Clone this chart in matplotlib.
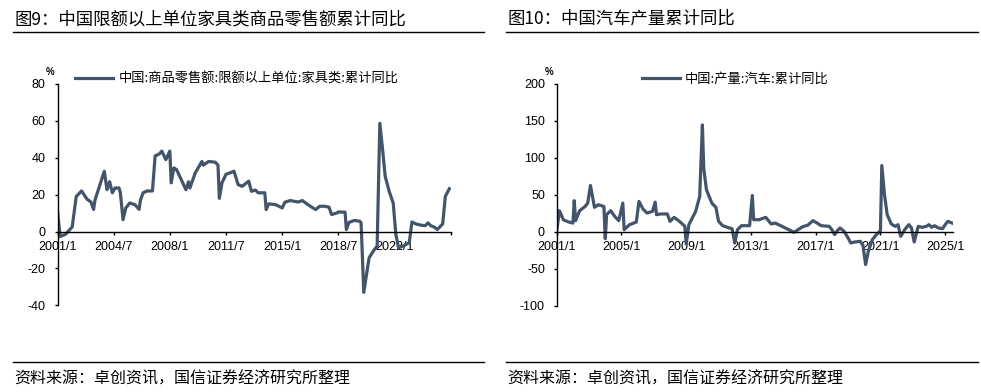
import matplotlib
matplotlib.use('Agg')
import matplotlib.pyplot as plt
import matplotlib.lines as mlines

plt.rcParams['font.family'] = ['Noto Sans CJK SC', 'DejaVu Sans']
plt.rcParams['axes.unicode_minus'] = False

W, H = 981, 392
LINE_COLOR = '#44546A'

# 图9: furniture retail sales, cumulative YoY (%)
furniture_dates = [
    "2001-01", "2001-03", "2001-07", "2001-12", "2002-03", "2002-07", "2002-11", "2003-02",
    "2003-04", "2003-05", "2003-12", "2004-02", "2004-04", "2004-06", "2004-08", "2004-11",
    "2004-12", "2005-02", "2005-04", "2005-07", "2005-11", "2006-02", "2006-03", "2006-05",
    "2006-08", "2006-12", "2007-02", "2007-05", "2007-07", "2007-10", "2008-01", "2008-02",
    "2008-04", "2008-06", "2008-09", "2009-01", "2009-03", "2009-04", "2009-08", "2010-01",
    "2010-02", "2010-06", "2010-11", "2011-01", "2011-02", "2011-04", "2011-07", "2012-01",
    "2012-04", "2012-07", "2012-12", "2013-02", "2013-05", "2013-07", "2013-12", "2014-01",
    "2014-03", "2014-08", "2015-01", "2015-03", "2015-07", "2016-01", "2016-04", "2016-09",
    "2017-02", "2017-05", "2017-09", "2017-12", "2018-02", "2018-06", "2018-07", "2018-12",
    "2019-01", "2019-03", "2019-07", "2019-11", "2019-12", "2020-02", "2020-06", "2020-10",
    "2020-12", "2021-02", "2021-04", "2021-06", "2021-09", "2021-12", "2022-02", "2022-04",
    "2022-07", "2022-12", "2023-02", "2023-05", "2023-09", "2023-12", "2024-02", "2024-04",
    "2024-07", "2024-09", "2025-01", "2025-03", "2025-06",
]
furniture_values = [
    11, -2.7, -1.5, 2.5, 19, 22, 17.6, 16,
    12, 17, 32.7, 22.7, 27, 21, 23.6, 23.6,
    21, 6.4, 12.7, 15.5, 14.5, 12, 17, 21,
    22, 22, 41, 42, 43.6, 39, 43.6, 26.4,
    34.5, 33.6, 29, 22.7, 27, 23.6, 31.8, 38,
    36, 38, 37.6, 36, 18, 26.4, 31, 32.7,
    25.5, 24.5, 27.3, 21.8, 22.5, 21, 21, 11.9,
    15, 14.6, 12.8, 15.9, 16.8, 16, 16.8, 14.2,
    11.9, 13.7, 13.7, 13.2, 9.2, 10.1, 10.6, 10.5,
    1.1, 5, 6, 5.6, 4.7, -33, -14.2, -9.7,
    -8, 58.7, 45, 30, 21.8, 15.5, -1.6, -8.8,
    -8, -6.1, 5.2, 4.1, 3.4, 3.2, 4.7, 3.2,
    2.3, 1.1, 4.1, 19.1, 23.2,
]

# 图10: auto production, cumulative YoY (%)
auto_dates = [
    "2001-01", "2001-03", "2001-06", "2001-10", "2002-01", "2002-02", "2002-03", "2002-06",
    "2002-10", "2002-12", "2003-02", "2003-05", "2003-08", "2003-12", "2004-01", "2004-02",
    "2004-05", "2004-08", "2004-11", "2005-02", "2005-03", "2005-07", "2005-12", "2006-02",
    "2006-05", "2006-08", "2006-12", "2007-02", "2007-03", "2007-06", "2007-11", "2008-01",
    "2008-04", "2008-08", "2008-12", "2009-01", "2009-03", "2009-08", "2009-11", "2010-01",
    "2010-02", "2010-04", "2010-08", "2010-11", "2011-01", "2011-04", "2011-09", "2011-11",
    "2012-01", "2012-03", "2012-06", "2012-12", "2013-02", "2013-03", "2013-07", "2013-12",
    "2014-04", "2014-07", "2014-12", "2015-05", "2015-09", "2016-01", "2016-04", "2016-07",
    "2016-11", "2017-02", "2017-05", "2017-11", "2018-01", "2018-03", "2018-05", "2018-07",
    "2018-10", "2019-01", "2019-03", "2019-06", "2019-10", "2019-12", "2020-02", "2020-04",
    "2020-07", "2020-10", "2021-01", "2021-02", "2021-04", "2021-06", "2021-09", "2021-12",
    "2022-02", "2022-04", "2022-07", "2022-10", "2022-12", "2023-02", "2023-05", "2023-08",
    "2023-11", "2024-01", "2024-03", "2024-05", "2024-08", "2024-11", "2025-01", "2025-03",
    "2025-06",
]
auto_values = [
    0, 28.4, 16, 13, 11.7, 42, 14.9, 28.4,
    34, 38.7, 62.6, 33, 36.5, 34, -9.5, 23,
    28.4, 20.7, 14.9, 38.7, 2.7, 9.5, 13, 41,
    30.6, 25.2, 27.5, 40, 23, 24, 24, 14,
    19.4, 14, 7.2, -16.7, 9.5, 27.5, 47.7, 144.6,
    86, 56.8, 38.7, 33, 14, 8.1, 5, 4,
    -15.3, 2.7, 8.1, 8.1, 49, 16.2, 16.2, 19.4,
    10.4, 11.7, 7.2, 2.7, -0.9, 4, 7.2, 8.6,
    14.9, 11.7, 8.1, 7.2, 2.7, -4, 1.4, 5,
    0.5, -8.6, -15.3, -14, -13, -18.5, -44.6, -26.6,
    -10.8, -4, 1.4, 89.6, 50, 23, 10.4, 7.2,
    9.5, -6.3, 2.7, 9.5, 5, -14, 7.2, 5.9,
    7.2, 9.5, 5.9, 8.1, 5, 4, 9.5, 14,
    11.7,
]

furniture_xticks = [2001, 2004.5, 2008, 2011.5, 2015, 2018.5, 2022, 2025.5]
furniture_xlabels = ["2001/1", "2004/7", "2008/1", "2011/7", "2015/1", "2018/7", "2022/1", ""]
furniture_yticks = [-40, -20, 0, 20, 40, 60, 80]

auto_xticks = [2001, 2005, 2009, 2013, 2017, 2021, 2025]
auto_xlabels = ["2001/1", "2005/1", "2009/1", "2013/1", "2017/1", "2021/1", "2025/1"]
auto_yticks = [-100, -50, 0, 50, 100, 150, 200]


def to_year(d):
    y, m = d.split('-')
    return int(y) + (int(m) - 1) / 12


def px_rect(x0, x1, ytop, ybot):
    return [x0 / W, 1 - ybot / H, (x1 - x0) / W, (ybot - ytop) / H]


def hline(fig, x0, x1, y):
    fig.add_artist(mlines.Line2D([x0 / W, x1 / W], [1 - y / H, 1 - y / H],
                                 color='black', lw=1.0))


def draw_panel(fig, rect, dates, values, yticks, xticks, xlabels, label, legend_x):
    ax = fig.add_axes(rect)
    ax.plot([to_year(d) for d in dates], values, color=LINE_COLOR, lw=2.3,
            solid_joinstyle='round', label=label)
    ax.set_xlim(2001, 2025.5)
    ax.set_ylim(yticks[0], yticks[-1])
    ax.spines[['top', 'right']].set_visible(False)
    ax.spines['bottom'].set_position(('data', 0))
    ax.spines['left'].set_linewidth(1.0)
    ax.spines['bottom'].set_linewidth(1.0)
    ax.set_xticks(xticks)
    ax.set_xticklabels(xlabels, fontfamily='Liberation Sans', fontsize=9)
    ax.set_yticks(yticks)
    ax.set_yticklabels([str(v) for v in yticks], fontfamily='Liberation Sans', fontsize=9)
    ax.tick_params(axis='x', length=2.5, width=1.0, pad=4)
    ax.tick_params(axis='y', length=2.5, width=1.0, pad=6)
    ax.text(-0.02, 1.055, '%', transform=ax.transAxes, fontsize=7,
            fontfamily='Liberation Sans', fontweight='bold', ha='center', va='center')
    ax.legend(loc='center left', bbox_to_anchor=(legend_x, 1.023), frameon=False,
              fontsize=9.5, handlelength=2.9, handletextpad=0.4,
              borderaxespad=0, borderpad=0)
    return ax


fig = plt.figure(figsize=(W / 100, H / 100), dpi=100)

# titles and rules
fig.text(14 / W, 1 - 19 / H, "图9：中国限额以上单位家具类商品零售额累计同比",
         fontsize=12.5, ha='left', va='center')
fig.text(507 / W, 1 - 19 / H, "图10：中国汽车产量累计同比",
         fontsize=12.5, ha='left', va='center')
hline(fig, 13, 484, 32.3)
hline(fig, 506, 978, 32.3)
hline(fig, 13, 484, 362.3)
hline(fig, 506, 978, 362.3)
fig.text(14 / W, 1 - 379 / H, "资料来源：卓创资讯，国信证券经济研究所整理",
         fontsize=11.5, ha='left', va='center')
fig.text(507 / W, 1 - 379 / H, "资料来源：卓创资讯，国信证券经济研究所整理",
         fontsize=11.5, ha='left', va='center')

draw_panel(fig, px_rect(57.5, 450.7, 84, 305.3), furniture_dates, furniture_values,
           furniture_yticks, furniture_xticks, furniture_xlabels,
           "中国:商品零售额:限额以上单位:家具类:累计同比", 0.0445)
draw_panel(fig, px_rect(556.7, 953.3, 84, 305.5), auto_dates, auto_values,
           auto_yticks, auto_xticks, auto_xlabels,
           "中国:产量:汽车:累计同比", 0.2143)

fig.savefig('out.png', dpi=100)
